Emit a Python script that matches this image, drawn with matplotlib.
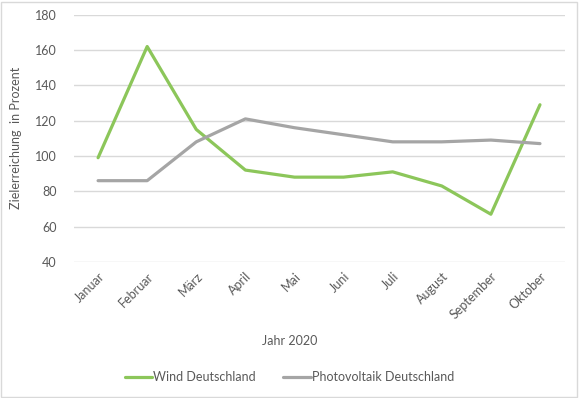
import matplotlib.pyplot as plt
import matplotlib.patches as patches

months = ['Januar', 'Februar', 'März', 'April', 'Mai', 'Juni', 'Juli',
          'August', 'September', 'Oktober']
wind = [99, 162, 115, 92, 88, 88, 91, 83, 67, 129]
pv = [86, 86, 108, 121, 116, 112, 108, 108, 109, 107]
yticks = [40, 60, 80, 100, 120, 140, 160, 180]

text_col = '#595959'
plt.rcParams['font.family'] = ['Lato', 'DejaVu Sans']

fig = plt.figure(figsize=(5.79, 3.98), dpi=100)
ax = fig.add_axes([0.127, 0.342, 0.848, 0.621])

x = range(len(months))
ax.plot(x, wind, color='#8CC65A', lw=2.3, label='Wind Deutschland',
        solid_joinstyle='round', solid_capstyle='round')
ax.plot(x, pv, color='#A5A5A5', lw=2.3, label='Photovoltaik Deutschland',
        solid_joinstyle='round', solid_capstyle='round')

ax.set_xlim(-0.5, len(months) - 0.5)
ax.set_ylim(40, 180)
ax.set_yticks(yticks)
ax.set_xticks(list(x))
ax.set_xticklabels(months, rotation=45, ha='right', va='top',
                   rotation_mode='anchor')
ax.tick_params(length=0, colors=text_col, labelsize=9)
ax.tick_params(axis='y', pad=12)
ax.tick_params(axis='x', pad=6)
ax.grid(axis='y', color='#D9D9D9', lw=1)
ax.set_axisbelow(True)
for s in ax.spines.values():
    s.set_visible(False)

ax.set_ylabel('Zielerreichung  in Prozent', color=text_col, fontsize=9)
ax.yaxis.set_label_coords(-0.105, 0.5)
fig.text(0.5, 0.143, 'Jahr 2020', ha='center', va='center',
         color=text_col, fontsize=9)

leg = fig.legend(loc='center', bbox_to_anchor=(0.5, 0.053), ncol=2,
                 frameon=False, fontsize=9, handlelength=2.2,
                 handletextpad=0.1, columnspacing=2.2)
for t in leg.get_texts():
    t.set_color(text_col)

fig.patches.append(patches.Rectangle((0.002, 0.003), 0.995, 0.993,
                                     transform=fig.transFigure, fill=False,
                                     edgecolor='#D9D9D9', lw=1))

fig.savefig('out.png', dpi=100)
